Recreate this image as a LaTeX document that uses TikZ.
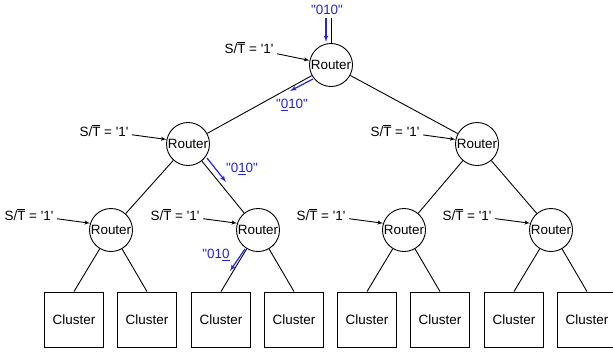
\documentclass[tikz,border=0pt]{standalone}
\usepackage{fontspec}
\newfontfamily\arialfont{Liberation Sans}
\usepackage{tikz}
\usetikzlibrary{arrows}
\definecolor{msgblue}{RGB}{35,35,225}
\newcommand{\tbar}{\makebox[0pt][l]{\rule[11pt]{0.611em}{0.9pt}}T}
\newcommand{\sellabel}{S/\tbar{} = '1'}

\begin{document}
\begin{tikzpicture}[>=latex', x=1bp, y=-1bp, line width=0.9bp,
	font=\arialfont\fontsize{13.5}{15}\selectfont,
	router/.style={draw, circle, minimum size=43bp, inner sep=0pt},
	cluster/.style={draw, minimum width=59bp, minimum height=55bp},
	msg/.style={text=msgblue, inner sep=1bp},
	hop/.style={->, draw=msgblue, line width=1.2bp}]
	\useasboundingbox (0,0) rectangle (613,354);

	% routers
	\node (r0) at (331,65)  [router] {Router};
	\node (r1) at (188,144) [router] {Router};
	\node (r2) at (477,144) [router] {Router};
	\node (r3) at (111,230) [router] {Router};
	\node (r4) at (258,230) [router] {Router};
	\node (r5) at (404,230) [router] {Router};
	\node (r6) at (551,230) [router] {Router};

	% clusters
	\foreach \x [count=\i] in {74,147,221,294,367,440,514,587}
		\node (c\i) at (\x,319.5) [cluster] {Cluster};

	% tree
	\coordinate (top) at (331,18);
	\draw (top) -- (r0);
	\draw (r0) -- (r1);
	\draw (r0) -- (r2);
	\draw (r1) -- (r3);
	\draw (r1) -- (r4);
	\draw (r2) -- (r5);
	\draw (r2) -- (r6);
	\draw (r3) -- (c1.north);
	\draw (r3) -- (c2.north);
	\draw (r4) -- (c3.north);
	\draw (r4) -- (c4.north);
	\draw (r5) -- (c5.north);
	\draw (r5) -- (c6.north);
	\draw (r6) -- (c7.north);
	\draw (r6) -- (c8.north);

	% select inputs
	\node (s0) at (249,48)  {\sellabel};
	\node (s1) at (104,131) {\sellabel};
	\node (s2) at (395,131) {\sellabel};
	\node (s3) at (29,215)  {\sellabel};
	\node (s4) at (175,215) {\sellabel};
	\node (s5) at (321,215) {\sellabel};
	\node (s6) at (467,215) {\sellabel};
	\draw [->] (s0) -- (r0.168);
	\draw [->] (s1) -- (r1.168);
	\draw [->] (s2) -- (r2.168);
	\draw [->] (s3) -- (r3.162);
	\draw [->] (s4) -- (r4.162);
	\draw [->] (s5) -- (r5.162);
	\draw [->] (s6) -- (r6.162);

	% message path
	\node (m0) at (327,10)  [msg] {"010"};
	\node (m1) at (292,105) [msg] {"\underline{0}10"};
	\node (m2) at (242,169) [msg] {"0\underline{1}0"};
	\node (m3) at (216,255) [msg] {"01\underline{0}};
	\coordinate (h0a) at (326,18);  \coordinate (h0b) at (326,42);
	\coordinate (h1a) at (313,79);  \coordinate (h1b) at (290,91);
	\coordinate (h2a) at (207,158); \coordinate (h2b) at (226,182);
	\coordinate (h3a) at (245,249); \coordinate (h3b) at (230,271);
	\draw [hop] (h0a) -- (h0b);
	\draw [hop] (h1a) -- (h1b);
	\draw [hop] (h2a) -- (h2b);
	\draw [hop] (h3a) -- (h3b);
\end{tikzpicture}
\end{document}
